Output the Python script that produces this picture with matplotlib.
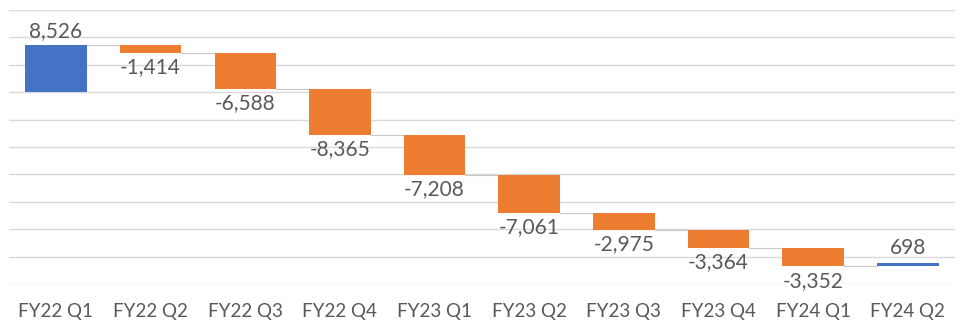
import matplotlib
matplotlib.use("Agg")
import matplotlib.pyplot as plt
import numpy as np

categories = ["FY22 Q1", "FY22 Q2", "FY22 Q3", "FY22 Q4", "FY23 Q1",
              "FY23 Q2", "FY23 Q3", "FY23 Q4", "FY24 Q1", "FY24 Q2"]
changes = [8526, -1414, -6588, -8365, -7208, -7061, -2975, -3364, -3352, 698]

plt.rcParams['font.family'] = ['Lato', 'DejaVu Sans']

fig = plt.figure(figsize=(9.6, 3.29), dpi=100)
ax = fig.add_axes([0.009, 1 - 284 / 329, 0.986, (284 - 10) / 329])

vals = np.array(changes)
ends = np.cumsum(vals)
starts = ends - vals
x = np.arange(len(categories))
width = 0.65
colors = ["#4472C4" if v > 0 else "#ED7D31" for v in vals]

ax.bar(x, vals, bottom=starts, width=width, color=colors, zorder=3)

# connectors
for i in range(len(vals) - 1):
    ax.plot([x[i] + width / 2, x[i + 1] - width / 2], [ends[i], ends[i]],
            color="#C8C8C8", lw=0.8, zorder=2)

# labels
txt_color = "#595959"
for xi, s, e, v in zip(x, starts, ends, vals):
    top = max(s, e)
    bot = min(s, e)
    if v > 0:
        ax.annotate(f"{v:,}", (xi, top), xytext=(0, 3), textcoords="offset points",
                    ha="center", va="bottom", fontsize=15, color=txt_color)
    else:
        ax.annotate(f"{v:,}", (xi, bot), xytext=(0, -3), textcoords="offset points",
                    ha="center", va="top", fontsize=15, color=txt_color)

ax.set_xlim(-0.5, len(categories) - 0.5)
ax.set_ylim(-35000, 15000)
ax.set_yticks(np.arange(-35000, 15001, 5000))
ax.yaxis.grid(True, color="#D9D9D9", lw=1, zorder=0)
ax.set_yticklabels([])
ax.tick_params(axis="y", length=0)
ax.set_xticks(x)
ax.set_xticklabels(categories, fontsize=13.5, color=txt_color)
ax.tick_params(axis="x", length=0, pad=14)
for sp in ax.spines.values():
    sp.set_visible(False)

fig.savefig("out.png", dpi=100, facecolor="white")
